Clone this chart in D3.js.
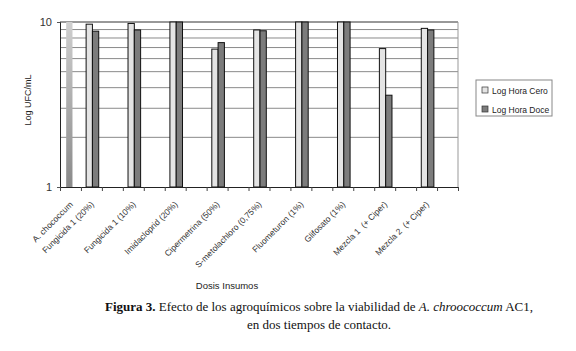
<!DOCTYPE html>
<html lang="es">
<head>
<meta charset="utf-8">
<title>Figura 3</title>
<script src="https://d3js.org/d3.v7.min.js"></script>
<style>
  body { margin: 0; background: #fff; }
  svg { display: block; }
  .axis text { font-family: "Liberation Sans", Arial, sans-serif; fill: #333; }
  .cat_label { font-family: "Liberation Sans", Arial, sans-serif; font-size: 8.5px; fill: #333; white-space: pre; }
  .axis_title { font-family: "Liberation Sans", Arial, sans-serif; fill: #222; }
  .caption { font-family: "Liberation Serif", "DejaVu Serif", serif; font-size: 13px; fill: #111; }
</style>
</head>
<body>
<script>
// data (Log UFC/mL, log scale 1 - 10)
const categories = ["A. chococcum", "Fungicida 1 (20%)", "Fungicida 1 (10%)", "Imidacloprid (20%)",
  "Cipermetrina (50%)", "S-metolachloro (0,75%)", "Fluometuron (1%)", "Glifosato (1%)",
  "Mezcla 1  (+ Ciper)", "Mezcla 2  (+ Ciper)"];
// category slot on the x axis (the original sheet had empty columns in between)
const slots = [0, 1, 3, 5, 7, 9, 11, 13, 15, 17];
const nSlots = 19;
const horaCero = [10, 9.7, 9.8, 10, 6.85, 8.95, 10, 10, 6.9, 9.15];
const horaDoce = [null, 8.8, 8.95, 10, 7.5, 8.85, 10, 10, 3.6, 8.95];
const seriesNames = ["Log Hora Cero", "Log Hora Doce"];
const gridValues = [2, 3, 4, 5, 6, 7, 8, 9, 10];
const yTicks = [1, 10];

const w = 576, h = 351;
const plotLeft = 60, plotTop = 22, plotRight = 458, plotBottom = 187;

const svg = d3.select("body").append("svg")
  .attr("width", w)
  .attr("height", h);

const defs = svg.append("defs");
const grad = defs.append("linearGradient")
  .attr("id", "ctrl").attr("x1", 0).attr("y1", 0).attr("x2", 0).attr("y2", 1);
grad.append("stop").attr("offset", "0%").attr("stop-color", "#cfcfcf");
grad.append("stop").attr("offset", "100%").attr("stop-color", "#8a8a8a");

// scales
const y = d3.scaleLog().domain([1, 10]).range([plotBottom, plotTop]);
const xSlot = d3.scaleBand().domain(d3.range(nSlots)).range([plotLeft, plotRight]).padding(0);
const xEdge = d3.scaleLinear().domain([0, nSlots]).range([plotLeft, plotRight]);
const xSub = d3.scaleBand().domain(seriesNames).range([0, 12.6]);
const groupOffset = (xSlot.bandwidth() - 12.6) / 2 + 1;

// gridlines
svg.append("g")
  .selectAll("line")
  .data(gridValues)
  .join("line")
  .attr("x1", plotLeft).attr("x2", plotRight)
  .attr("y1", d => y(d)).attr("y2", d => y(d))
  .attr("stroke", d => d == 10 ? "#333" : "#8a8a8a")
  .attr("stroke-width", 1);

// right border
svg.append("line")
  .attr("x1", plotRight).attr("x2", plotRight)
  .attr("y1", plotTop).attr("y2", plotBottom)
  .attr("stroke", "#999");

// bars
const bars = [];
categories.forEach((c, i) => {
  if (horaCero[i] != null) bars.push({ cat: i, s: seriesNames[0], v: horaCero[i] });
  if (horaDoce[i] != null) bars.push({ cat: i, s: seriesNames[1], v: horaDoce[i] });
});

svg.append("g")
  .selectAll("rect")
  .data(bars)
  .join("rect")
  .attr("x", d => xSlot(slots[d.cat]) + groupOffset + xSub(d.s) + (d.cat == 0 ? 1 : 0))
  .attr("y", d => y(d.v))
  .attr("width", xSub.bandwidth())
  .attr("height", d => plotBottom - y(d.v))
  .attr("fill", d => d.cat == 0 ? "url(#ctrl)" : (d.s == seriesNames[0] ? "#e4e4e4" : "#7c7c7c"))
  .attr("stroke", d => d.cat == 0 ? "none" : "#111")
  .attr("stroke-width", 1);

// left axis
const leftAxis = d3.axisLeft(y)
  .tickValues(yTicks)
  .tickFormat(d3.format("d"))
  .tickSize(3)
  .tickPadding(5);
const ly = svg.append("g")
  .attr("class", "axis")
  .attr("transform", "translate(" + plotLeft + ",0)")
  .call(leftAxis);
ly.selectAll("text").attr("font-size", 11);
ly.select(".domain").attr("stroke", "#222");
ly.selectAll(".tick line").attr("stroke", "#555");

// bottom axis
const bottomAxis = d3.axisBottom(xEdge)
  .tickValues(d3.range(nSlots + 1))
  .tickFormat("")
  .tickSize(4)
  .tickSizeOuter(0);
const bx = svg.append("g")
  .attr("class", "axis")
  .attr("transform", "translate(0," + plotBottom + ")")
  .call(bottomAxis);
bx.select(".domain").attr("stroke", "#222");
bx.selectAll(".tick line").attr("stroke", "#444");

// category labels
svg.append("g")
  .selectAll("text")
  .data(categories)
  .join("text")
  .attr("class", "cat_label")
  .attr("text-anchor", "end")
  .attr("transform", (d, i) => "translate(" + (xSlot(slots[i]) + xSlot.bandwidth() / 2 + 3) + "," + (plotBottom + 18) + ") rotate(-45)")
  .text(d => d);

// axis titles
svg.append("text")
  .attr("class", "axis_title")
  .attr("font-size", 9)
  .attr("text-anchor", "middle")
  .attr("transform", "translate(31,100) rotate(-90)")
  .text("Log UFC/mL");

svg.append("text")
  .attr("class", "axis_title")
  .attr("font-size", 9.5)
  .attr("text-anchor", "middle")
  .attr("x", 227)
  .attr("y", 289)
  .text("Dosis Insumos");

// legend
const legend = svg.append("g").attr("transform", "translate(476,80)");
legend.append("rect")
  .attr("width", 76).attr("height", 36)
  .attr("fill", "#fff").attr("stroke", "#888");
seriesNames.forEach((s, i) => {
  legend.append("rect")
    .attr("x", 6).attr("y", 7 + i * 19)
    .attr("width", 6).attr("height", 6)
    .attr("fill", i == 0 ? "#e4e4e4" : "#7c7c7c")
    .attr("stroke", "#333").attr("stroke-width", 0.7);
  legend.append("text")
    .attr("class", "axis_title")
    .attr("font-size", 8.5)
    .attr("x", 16).attr("y", 13.5 + i * 19)
    .text(s);
});

// caption
const cap1 = svg.append("text").attr("class", "caption").attr("text-anchor", "middle").attr("x", 319).attr("y", 311);
cap1.append("tspan").attr("font-weight", "bold").text("Figura 3.");
cap1.append("tspan").text(" Efecto de los agroquímicos sobre la viabilidad de ");
cap1.append("tspan").attr("font-style", "italic").text("A. chroococcum");
cap1.append("tspan").text(" AC1,");
svg.append("text").attr("class", "caption").attr("text-anchor", "middle")
  .attr("x", 319).attr("y", 329)
  .text("en dos tiempos de contacto.");
</script>
</body>
</html>
